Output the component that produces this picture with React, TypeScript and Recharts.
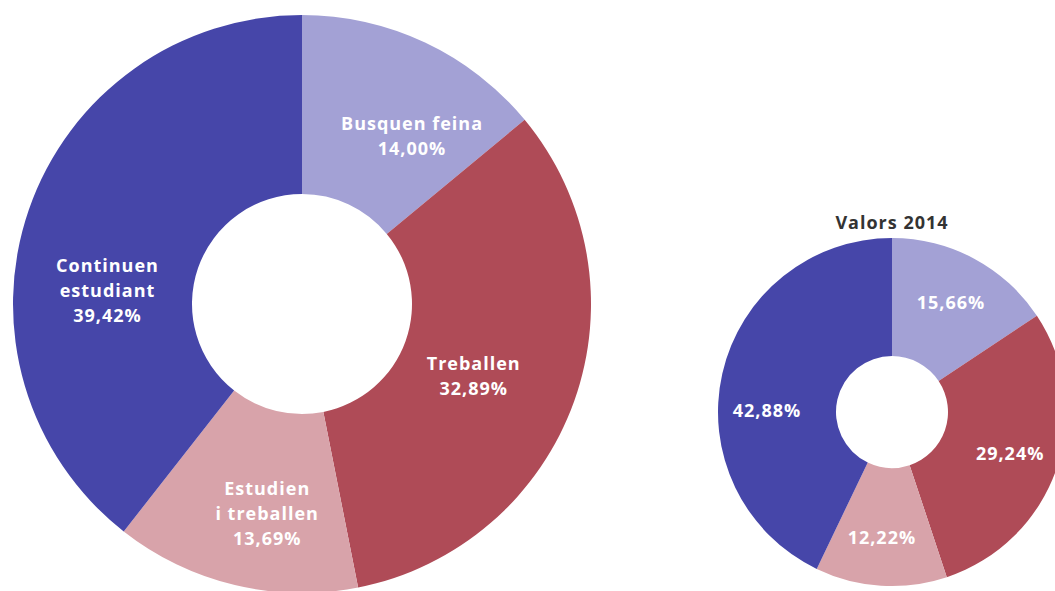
import React from "react";
import { PieChart, Pie, Cell } from "recharts";

const CATEGORIES = ["Busquen feina", "Treballen", "Estudien\ni treballen", "Continuen\nestudiant"];
const VALUES_MAIN = [14.0, 32.89, 13.69, 39.42];
const VALUES_2014 = [15.66, 29.24, 12.22, 42.88];
const TITLE_2014 = "Valors 2014";

const COLORS = ["#A3A1D5", "#AF4B57", "#D8A3AA", "#4646A9"];

// small angle nudges so the labels sit where the original placed them
const MAIN_LABEL_NUDGE = [-8, -3, 4, 15];
const MAIN_LABEL_RADIUS = [201, 186, 212, 195];
const SMALL_LABEL_NUDGE = [0, 0, -1, 12];

const FONT = "'Open Sans', 'Noto Sans', sans-serif";
const RAD = Math.PI / 180;

const fmt = (v: number) => v.toFixed(2).replace(".", ",") + "%";

const mainData = CATEGORIES.map((name, i) => ({ name, value: VALUES_MAIN[i] }));
const data2014 = CATEGORIES.map((name, i) => ({ name, value: VALUES_2014[i] }));

const renderMainLabel = (props: any) => {
  const { cx, cy, midAngle, index, payload } = props;
  const a = (midAngle + MAIN_LABEL_NUDGE[index]) * RAD;
  const r = MAIN_LABEL_RADIUS[index];
  const x = cx + r * Math.cos(a);
  const y = cy - r * Math.sin(a);
  const lines = [...String(payload.name).split("\n"), fmt(payload.value)];
  const lh = 25;
  const y0 = y - ((lines.length - 1) * lh) / 2;
  return (
    <text
      x={x}
      y={y0}
      fill="#fff"
      textAnchor="middle"
      dominantBaseline="central"
      fontFamily={FONT}
      fontWeight={700}
      fontSize={18}
      letterSpacing={1}
    >
      {lines.map((l, i) => (
        <tspan key={i} x={x} y={y0 + i * lh}>
          {l}
        </tspan>
      ))}
    </text>
  );
};

const renderSmallLabel = (props: any) => {
  const { cx, cy, midAngle, innerRadius, outerRadius, index, payload } = props;
  const r = (innerRadius + outerRadius) / 2 + 10;
  const a = (midAngle + SMALL_LABEL_NUDGE[index]) * RAD;
  const x = cx + r * Math.cos(a);
  const y = cy - r * Math.sin(a);
  return (
    <text
      x={x}
      y={y}
      fill="#fff"
      textAnchor="middle"
      dominantBaseline="central"
      fontFamily={FONT}
      fontWeight={700}
      fontSize={18}
      letterSpacing={1}
    >
      {fmt(payload.value)}
    </text>
  );
};

export default function App() {
  return (
    <div style={{ position: "absolute", left: 0, top: 0, width: 1055, height: 591, background: "#fff", overflow: "hidden" }}>
      <PieChart width={1055} height={591} margin={{ top: 0, right: 0, bottom: 0, left: 0 }}>
        <Pie
          data={mainData}
          dataKey="value"
          cx={302}
          cy={304}
          innerRadius={110}
          outerRadius={289}
          startAngle={90}
          endAngle={-270}
          stroke="none"
          label={renderMainLabel}
          labelLine={false}
          isAnimationActive={false}
        >
          {mainData.map((_, i) => (
            <Cell key={`m-${i}`} fill={COLORS[i]} />
          ))}
        </Pie>
        <Pie
          data={data2014}
          dataKey="value"
          cx={892}
          cy={412}
          innerRadius={56}
          outerRadius={174}
          startAngle={90}
          endAngle={-270}
          stroke="none"
          label={renderSmallLabel}
          labelLine={false}
          isAnimationActive={false}
        >
          {data2014.map((_, i) => (
            <Cell key={`s-${i}`} fill={COLORS[i]} />
          ))}
        </Pie>
      </PieChart>
      <div
        style={{
          position: "absolute",
          left: 792,
          top: 210,
          width: 200,
          textAlign: "center",
          fontFamily: FONT,
          fontWeight: 700,
          fontSize: 18,
          letterSpacing: 1,
          lineHeight: "24px",
          color: "#333",
        }}
      >
        {TITLE_2014}
      </div>
    </div>
  );
}
